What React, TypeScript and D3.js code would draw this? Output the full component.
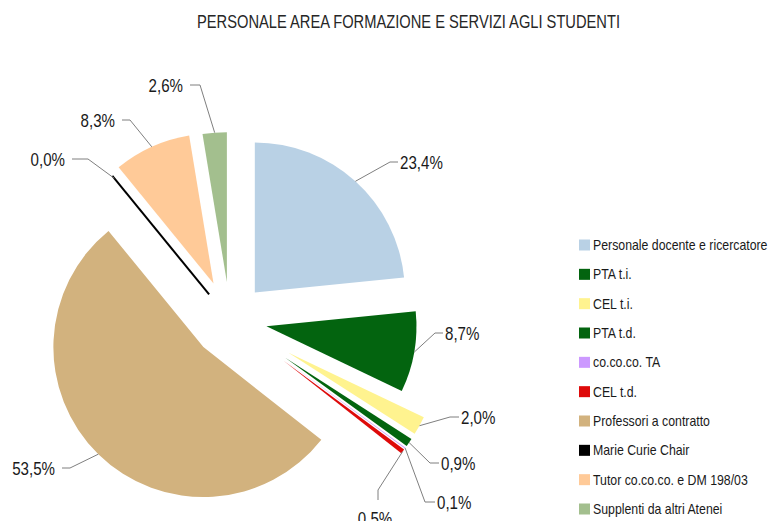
import React from "react";
import * as d3 from "d3";

// chart data
const categories = [
  "Personale docente e ricercatore",
  "PTA t.i.",
  "CEL t.i.",
  "PTA t.d.",
  "co.co.co. TA",
  "CEL t.d.",
  "Professori a contratto",
  "Marie Curie Chair",
  "Tutor co.co.co. e DM 198/03",
  "Supplenti da altri Atenei",
];
const values = [23.4, 8.7, 2.0, 0.9, 0.1, 0.5, 53.5, 0.0, 8.3, 2.6];
const colors = [
  "#B9D1E5",
  "#03640F",
  "#FFF38F",
  "#03640F",
  "#CC99FF",
  "#DE0A0A",
  "#D2B27E",
  "#000000",
  "#FFCA98",
  "#A3BF8E",
];

// per-slice explosion (px)
const explode = [37, 37, 67, 67, 67, 67, 38, 33, 40, 38];

// label leader layout: elbow, end and anchor of the text
const labelLayout: { elbow: [number, number]; end: [number, number]; anchor: string }[] = [
  { elbow: [390, 162], end: [398, 162], anchor: "start" },
  { elbow: [435, 333], end: [443, 333], anchor: "start" },
  { elbow: [450, 417], end: [459, 417], anchor: "start" },
  { elbow: [430, 463], end: [439, 463], anchor: "start" },
  { elbow: [425, 502], end: [435, 502], anchor: "start" },
  { elbow: [378, 490], end: [378, 500], anchor: "middle" },
  { elbow: [70, 468], end: [62, 468], anchor: "end" },
  { elbow: [88, 159], end: [72, 159], anchor: "end" },
  { elbow: [130, 120], end: [122, 120], anchor: "end" },
  { elbow: [200, 85], end: [190, 85], anchor: "end" },
];

const title = "PERSONALE AREA FORMAZIONE E SERVIZI AGLI STUDENTI";

const FONT = '"Liberation Sans", Arial, sans-serif';

const width = 768;
const height = 521;
const cx = 230;
const cy = 320;
const radius = 150;

const fmt = (v: number) => d3.format(".1f")(v).replace(".", ",") + "%";

// condensed text: regular font squeezed horizontally
const Narrow = ({ x, y, s, size, anchor = "start", children }: any) => (
  <text
    transform={`translate(${x},${y}) scale(${s},1)`}
    textAnchor={anchor}
    fontSize={size}
    fill="#1a1a1a"
  >
    {children}
  </text>
);

export default function App() {
  const pie = d3
    .pie<number>()
    .sort(null)
    .value((d) => d);
  const arcs = pie(values);
  const arc = d3.arc<d3.PieArcDatum<number>>().innerRadius(0).outerRadius(radius);

  const legend = d3
    .scalePoint<string>()
    .domain(categories)
    .range([245, 509]);

  return (
    <svg
      width={width}
      height={height}
      style={{ position: "absolute", left: 0, top: 0, background: "#fff" }}
      fontFamily={FONT}
    >
      <text
        x={197}
        y={28}
        fontSize={18}
        fill="#262626"
        textLength={423}
        lengthAdjust="spacingAndGlyphs"
      >
        {title}
      </text>

      <g transform={`translate(${cx},${cy})`}>
        {arcs.map((a, i) => {
          const mid = (a.startAngle + a.endAngle) / 2;
          const [ox, oy] = d3.pointRadial(mid, explode[i]);
          if (a.value === 0) {
            const [x1, y1] = d3.pointRadial(a.startAngle, explode[i]);
            const [x2, y2] = d3.pointRadial(a.startAngle, explode[i] + radius + 3);
            return <line key={i} x1={x1} y1={y1} x2={x2} y2={y2} stroke={colors[i]} strokeWidth={2} />;
          }
          return (
            <path key={i} d={arc(a) || ""} fill={colors[i]} transform={`translate(${ox},${oy})`} />
          );
        })}
      </g>

      {arcs.map((a, i) => {
        const mid = (a.startAngle + a.endAngle) / 2;
        const [sx, sy] = d3.pointRadial(mid, explode[i] + radius);
        const lay = labelLayout[i];
        const [ex, ey] = lay.end;
        let tx = ex + 2;
        let ty = ey + 6.5;
        if (lay.anchor === "end") tx = ex - 7;
        if (lay.anchor === "middle") {
          tx = ex - 3;
          ty = ey + 25;
        }
        return (
          <g key={i}>
            <polyline
              points={`${cx + sx},${cy + sy} ${lay.elbow[0]},${lay.elbow[1]} ${ex},${ey}`}
              fill="none"
              stroke="#7f7f7f"
              strokeWidth={1}
            />
            <Narrow x={tx} y={ty} s={0.84} size={18} anchor={lay.anchor}>
              {fmt(a.value)}
            </Narrow>
          </g>
        );
      })}

      <g>
        {categories.map((c, i) => (
          <g key={c} transform={`translate(579,${legend(c)})`}>
            <rect x={0} y={-5.5} width={11} height={11} fill={colors[i]} />
            <Narrow x={14} y={5} s={0.88} size={14}>
              {c}
            </Narrow>
          </g>
        ))}
      </g>
    </svg>
  );
}
